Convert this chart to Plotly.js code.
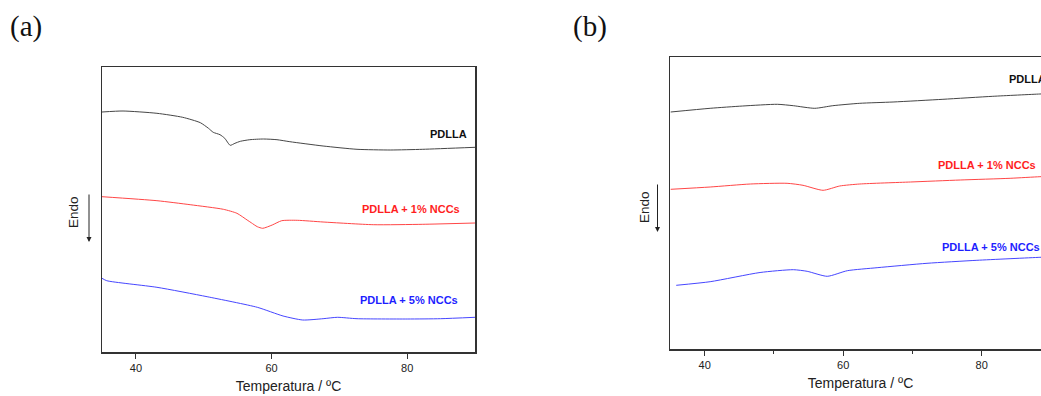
<!DOCTYPE html>
<html>
<head>
<meta charset="utf-8">
<script src="https://cdn.plot.ly/plotly-3.0.1.min.js"></script>
<style>
  html, body { margin: 0; padding: 0; background: #fff; overflow: hidden; }
  #chart { width: 1070px; height: 396px; }
</style>
</head>
<body>
<div id="chart"></div>
<script>
// DSC heating curves (heat flow, arbitrary units; endothermic downwards)

// (a) first run
const tempA_pdlla = [35, 38.1, 43.1, 46.9, 49.5, 50.7, 51.4, 52.4, 53.1, 53.9, 54.6, 55.4, 56.8, 58.8, 60.8, 62.7, 67.6, 72.6, 77.5, 82.3, 90];
const flowA_pdlla = [240, 241, 238.7, 234.7, 229.3, 223.7, 219.7, 217.3, 213.7, 206.7, 208.7, 210.7, 212.3, 213, 212.3, 210.3, 206, 202.7, 202, 202.7, 204.7];

const tempA_ncc1 = [35, 43.1, 48.0, 52.9, 54.9, 56.4, 57.0, 57.9, 58.7, 60.1, 61.5, 63.8, 67.6, 75.0, 82.3, 90];
const flowA_ncc1 = [155.3, 151.3, 147.3, 142.7, 138.7, 132, 129.3, 125.3, 123.7, 127, 131.3, 131.7, 130, 127.3, 127.7, 129];

const tempA_ncc5 = [35, 35.7, 43.1, 50.5, 57.9, 61.7, 64.6, 67.6, 69.7, 72.6, 80.0, 84.9, 90];
const flowA_ncc5 = [73.7, 71.3, 64.7, 55.3, 44.7, 36, 32, 33.3, 34.7, 33.3, 33, 33.3, 34.7];

// (b) second run
const tempB_pdlla = [35.1, 40.8, 45.5, 50.5, 52.8, 55.9, 58.5, 62.4, 67.2, 74.4, 81.6, 88.4, 90];
const flowB_pdlla = [237, 240.7, 243, 244.7, 243.3, 240.7, 243.3, 245.7, 247, 249.7, 252.7, 255, 255.5];

const tempB_ncc1 = [35.1, 40.8, 46.6, 51.9, 54.2, 57.1, 59.5, 62.4, 69.7, 76.9, 84.1, 88.4, 90];
const flowB_ncc1 = [159.7, 162, 165, 165.7, 163.7, 158.7, 163, 165, 167, 169, 170.7, 172.3, 172.7];

const tempB_ncc5 = [35.9, 40.8, 48.0, 52.8, 54.8, 57.7, 60.6, 64.9, 72.1, 79.3, 88.4, 90];
const flowB_ncc5 = [63.7, 67.3, 76.5, 79.3, 77.7, 72.7, 78.3, 81.3, 85.7, 88.7, 91.7, 92.2];

const seriesNames = ['PDLLA', 'PDLLA + 1% NCCs', 'PDLLA + 5% NCCs'];
const xTitle = 'Temperatura / ºC';
const yTitle = 'Endo';
const panelTags = ['(a)', '(b)'];

const colors = ['rgb(70,70,70)', 'rgb(255,70,70)', 'rgb(70,70,255)'];
const W = 1070, H = 396;
const px = v => v / W;
const py = v => 1 - v / H;

function curve(x, y, i, xa, ya) {
  return {
    x: x, y: y, xaxis: xa, yaxis: ya, type: 'scatter', mode: 'lines',
    name: seriesNames[i], showlegend: false, hoverinfo: 'skip',
    line: { color: colors[i], width: 1, shape: 'spline', smoothing: 0.6 }
  };
}

const traces = [
  curve(tempA_pdlla, flowA_pdlla, 0, 'x', 'y'),
  curve(tempA_ncc1, flowA_ncc1, 1, 'x', 'y'),
  curve(tempA_ncc5, flowA_ncc5, 2, 'x', 'y'),
  curve(tempB_pdlla, flowB_pdlla, 0, 'x2', 'y2'),
  curve(tempB_ncc1, flowB_ncc1, 1, 'x2', 'y2'),
  curve(tempB_ncc5, flowB_ncc5, 2, 'x2', 'y2')
];

const sans = 'Liberation Sans, Arial, sans-serif';
const axisFont = { family: sans, size: 11, color: '#222' };
const titleFont = { family: sans, size: 14, color: '#222' };
const labelFont = c => ({ family: sans, size: 11, color: c, weight: 'bold' });
const endoFont = { family: sans, size: 13.5, color: '#222' };
const tagFont = { family: 'Liberation Serif, Times New Roman, serif', size: 29, color: '#111' };

function xAxis(domain, minor) {
  const ax = {
    domain: domain, range: [35, 90], showgrid: false, zeroline: false,
    showline: true, mirror: true, linecolor: '#333', linewidth: 1.5,
    ticks: 'outside', ticklen: 5, tickwidth: 1, tickcolor: '#333',
    tick0: 0, dtick: 20, tickfont: axisFont,
    title: { text: xTitle, font: titleFont, standoff: 8 }
  };
  if (minor) ax.minor = { dtick: 10, ticks: 'outside', ticklen: 3, tickwidth: 1, tickcolor: '#333', showgrid: false };
  return ax;
}
function yAxis(domain, range) {
  return {
    domain: domain, range: range, showgrid: false, zeroline: false,
    showline: true, mirror: true, linecolor: '#333', linewidth: 1.5,
    ticks: '', showticklabels: false
  };
}

const annotations = [
  // series labels, panel (a)
  { xref: 'x', yref: 'y', x: 89.1, y: 218, text: seriesNames[0], showarrow: false, xanchor: 'right', font: labelFont('#111') },
  { xref: 'x', yref: 'y', x: 88.05, y: 143, text: seriesNames[1], showarrow: false, xanchor: 'right', font: labelFont('rgb(255,30,30)') },
  { xref: 'x', yref: 'y', x: 87.8, y: 52, text: seriesNames[2], showarrow: false, xanchor: 'right', font: labelFont('rgb(30,30,255)') },
  // series labels, panel (b)
  { xref: 'x2', yref: 'y2', x: 83.6, y: 269.7, text: seriesNames[0], showarrow: false, xanchor: 'left', font: labelFont('#111') },
  { xref: 'x2', yref: 'y2', x: 73.4, y: 184, text: seriesNames[1], showarrow: false, xanchor: 'left', font: labelFont('rgb(255,30,30)') },
  { xref: 'x2', yref: 'y2', x: 74.0, y: 102.3, text: seriesNames[2], showarrow: false, xanchor: 'left', font: labelFont('rgb(30,30,255)') },
  // "Endo" labels with downward arrows
  { xref: 'paper', yref: 'paper', x: px(73), y: py(212), xanchor: 'center', yanchor: 'middle', text: yTitle, textangle: -90, showarrow: false, font: endoFont },
  { xref: 'paper', yref: 'paper', x: px(644), y: py(207), xanchor: 'center', yanchor: 'middle', text: yTitle, textangle: -90, showarrow: false, font: endoFont },
  { xref: 'paper', yref: 'paper', x: px(89), y: py(242), text: '', showarrow: true, ax: 0, ay: -49, arrowhead: 2, arrowsize: 1, arrowwidth: 1, arrowcolor: '#222' },
  { xref: 'paper', yref: 'paper', x: px(657.5), y: py(232), text: '', showarrow: true, ax: 0, ay: -49, arrowhead: 2, arrowsize: 1, arrowwidth: 1, arrowcolor: '#222' },
  // panel tags
  { xref: 'paper', yref: 'paper', x: px(26), y: py(27), xanchor: 'center', yanchor: 'middle', text: panelTags[0], showarrow: false, font: tagFont },
  { xref: 'paper', yref: 'paper', x: px(590), y: py(27), xanchor: 'center', yanchor: 'middle', text: panelTags[1], showarrow: false, font: tagFont }
];

const layout = {
  width: W, height: H,
  margin: { l: 0, r: 0, t: 0, b: 0 },
  paper_bgcolor: '#fff', plot_bgcolor: '#fff',
  showlegend: false,
  xaxis: xAxis([px(102), px(475)], false),
  yaxis: yAxis([1 - 352 / H, 1 - 67 / H], [0, 285]),
  xaxis2: xAxis([px(670), px(1051)], true),
  yaxis2: yAxis([1 - 349 / H, 1 - 57 / H], [0, 292]),
  annotations: annotations
};
layout.yaxis2.anchor = 'x2';
layout.xaxis2.anchor = 'y2';

Plotly.newPlot('chart', traces, layout, { displayModeBar: false, staticPlot: true });
</script>
</body>
</html>
